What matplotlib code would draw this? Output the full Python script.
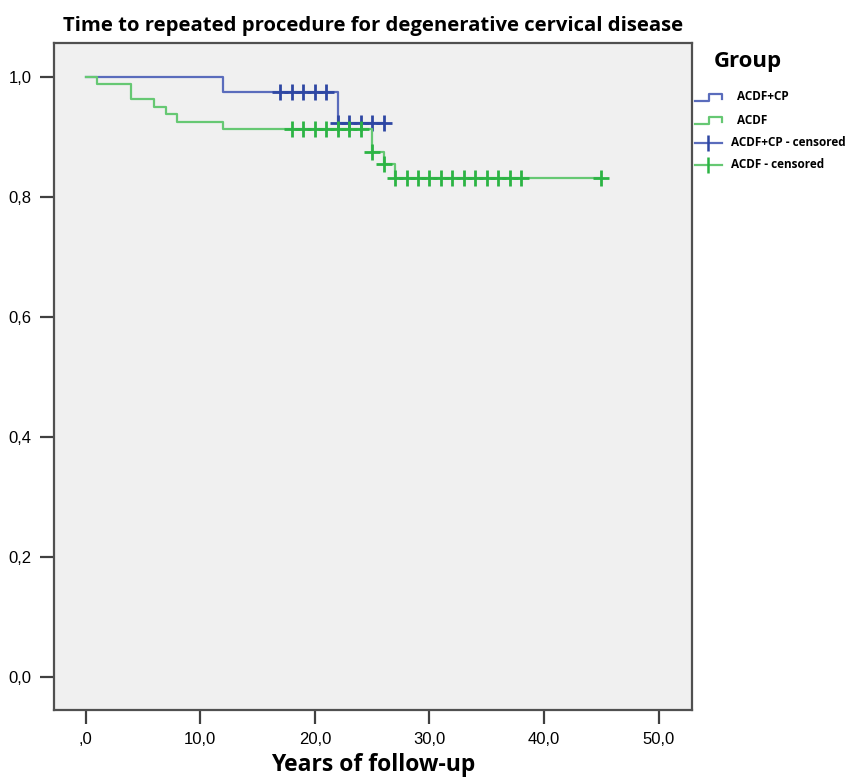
import numpy as np
import matplotlib
matplotlib.use('Agg')
import matplotlib.pyplot as plt
from matplotlib.lines import Line2D

# Kaplan-Meier steps
cp_times = [0, 12, 22]
cp_surv = [1.0, 0.975, 0.923]
cp_end = 26
cp_censored = [17, 18, 19, 20, 21, 22, 23, 24, 25, 26]

acdf_times = [0, 1, 4, 6, 7, 8, 12, 25, 26, 27]
acdf_surv = [1.0, 0.988, 0.963, 0.95, 0.938, 0.925, 0.913, 0.875, 0.855, 0.832]
acdf_end = 45
acdf_censored = [18, 19, 20, 21, 22, 23, 24, 25, 26, 27, 28, 29, 30, 31, 32,
                 33, 34, 35, 36, 37, 38, 45]

x_ticks = [0, 10, 20, 30, 40, 50]
x_labels = [',0', '10,0', '20,0', '30,0', '40,0', '50,0']
y_ticks = [0.0, 0.2, 0.4, 0.6, 0.8, 1.0]
y_labels = ['0,0', '0,2', '0,4', '0,6', '0,8', '1,0']

BLUE_LINE, BLUE_MARK = '#5a6cbc', '#2e47a3'
GREEN_LINE, GREEN_MARK = '#66c873', '#2cb444'
TICK_FONT = ['Liberation Sans Narrow', 'Liberation Sans', 'DejaVu Sans']


def surv_at(times, surv, t):
    idx = np.searchsorted(times, t, side='right') - 1
    return np.array(surv)[idx]


fig = plt.figure(figsize=(8.6, 7.81), dpi=100)
ax = fig.add_axes([0.0628, 0.0909, 0.7419, 0.854])
ax.set_facecolor('#f0f0f0')

for times, surv, end, cens, lc, mc in [
        (cp_times, cp_surv, cp_end, cp_censored, BLUE_LINE, BLUE_MARK),
        (acdf_times, acdf_surv, acdf_end, acdf_censored, GREEN_LINE, GREEN_MARK)]:
    xs = list(times) + [end]
    ys = list(surv) + [surv[-1]]
    ax.step(xs, ys, where='post', color=lc, lw=1.6)
    ax.plot(cens, surv_at(times, surv, cens), ls='none', marker='+',
            markersize=12, mew=2.0, color=mc)

ax.set_xlim(-2.75, 52.9)
ax.set_ylim(-0.055, 1.057)
ax.set_xticks(x_ticks)
ax.set_xticklabels(x_labels)
ax.set_yticks(y_ticks)
ax.set_yticklabels(y_labels)
ax.tick_params(direction='out', length=10, width=1.6, color='#404040',
               labelsize=12, pad=6)
for lab in ax.get_xticklabels() + ax.get_yticklabels():
    lab.set_family(TICK_FONT)
for sp in ax.spines.values():
    sp.set_color('#505050')
    sp.set_linewidth(1.6)

ax.set_title('Time to repeated procedure for degenerative cervical disease',
             fontsize=14.6, fontweight='bold', family='Open Sans', pad=9)
ax.set_xlabel('Years of follow-up', fontsize=16.5, fontweight='bold',
              family='Open Sans', labelpad=4)

# legend drawn by hand, SPSS style
W, H = 860, 781


def fx(px):
    return px / W


def fy(py):
    return 1 - py / H


fig.text(fx(714), fy(62), 'Group', fontsize=16, fontweight='bold',
         family='Open Sans', va='center')
for y0, col, lab in [(97, BLUE_LINE, 'ACDF+CP'), (120, GREEN_LINE, 'ACDF')]:
    fig.add_artist(Line2D([fx(695), fx(709), fx(709), fx(722), fx(722)],
                          [fy(y0 + 4), fy(y0 + 4), fy(y0 - 3), fy(y0 - 3), fy(y0 + 2)],
                          color=col, lw=1.6))
    fig.text(fx(737), fy(y0), lab, fontsize=8.5, fontweight='bold',
             family='Open Sans', va='center')
for y0, lc, mc, lab in [(143, BLUE_LINE, BLUE_MARK, 'ACDF+CP - censored'),
                        (165, GREEN_LINE, GREEN_MARK, 'ACDF - censored')]:
    fig.add_artist(Line2D([fx(695), fx(722)], [fy(y0), fy(y0)], color=lc, lw=1.6))
    fig.add_artist(Line2D([fx(708)], [fy(y0)], marker='|', markersize=11,
                          mew=1.8, color=mc))
    fig.text(fx(731), fy(y0), lab, fontsize=8.5, fontweight='bold',
             family='Open Sans', va='center')

fig.savefig('out.png', dpi=100, facecolor='white')
